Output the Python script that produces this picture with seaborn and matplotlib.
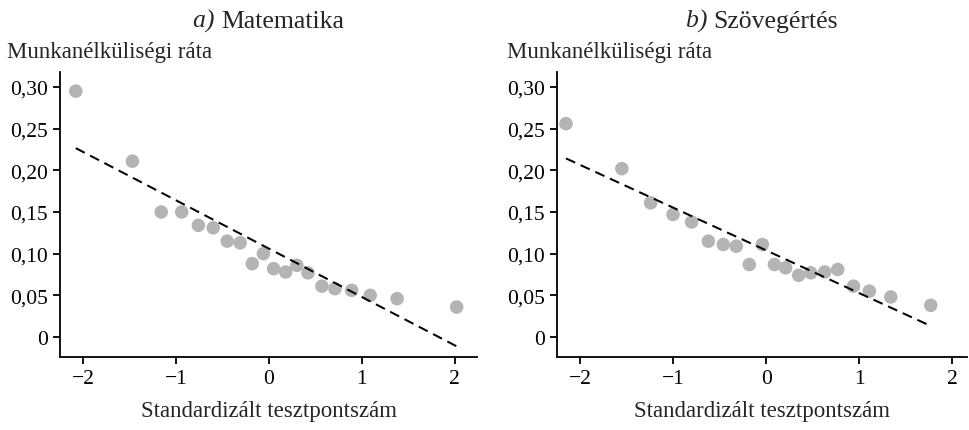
import matplotlib.pyplot as plt
import matplotlib.ticker as mticker
from matplotlib.transforms import offset_copy
import seaborn as sns
import numpy as np
import pandas as pd

# --- Data ---
math_x = [-2.08, -1.47, -1.16, -0.94, -0.76, -0.60, -0.45, -0.31, -0.18, -0.06,
          0.05, 0.18, 0.30, 0.42, 0.57, 0.71, 0.89, 1.09, 1.38, 2.02]
math_y = [0.295, 0.211, 0.150, 0.150, 0.134, 0.131, 0.115, 0.113, 0.088, 0.100,
          0.082, 0.078, 0.086, 0.077, 0.061, 0.058, 0.056, 0.050, 0.046, 0.036]
math_fit = (0.106, -0.058)  # intercept, slope

read_x = [-2.15, -1.55, -1.24, -1.00, -0.80, -0.62, -0.46, -0.32, -0.18, -0.04,
          0.09, 0.21, 0.35, 0.48, 0.63, 0.77, 0.94, 1.11, 1.34, 1.77]
read_y = [0.256, 0.202, 0.161, 0.147, 0.138, 0.115, 0.111, 0.109, 0.087, 0.111,
          0.087, 0.083, 0.074, 0.077, 0.078, 0.081, 0.061, 0.055, 0.048, 0.038]
read_fit = (0.104, -0.0513)

titles = [('a)', 'Matematika'), ('b)', 'Szövegértés')]
ylabel = 'Munkanélküliségi ráta'
xlabel = 'Standardizált tesztpontszám'
yticks = [0, 0.05, 0.10, 0.15, 0.20, 0.25, 0.30]
xticks = [-2, -1, 0, 1, 2]

# --- Style ---
sns.set_theme(style='ticks')
plt.rcParams['font.family'] = ['Liberation Serif', 'DejaVu Serif']
plt.rcParams['font.size'] = 15
plt.rcParams['axes.linewidth'] = 1.3
plt.rcParams['xtick.major.width'] = 1.3
plt.rcParams['ytick.major.width'] = 1.3
plt.rcParams['xtick.major.size'] = 5
plt.rcParams['ytick.major.size'] = 5
plt.rcParams['xtick.labelsize'] = 15.5
plt.rcParams['ytick.labelsize'] = 15.5
plt.rcParams['axes.edgecolor'] = 'black'
plt.rcParams['xtick.color'] = 'black'
plt.rcParams['ytick.color'] = 'black'

fig = plt.figure(figsize=(9.69, 4.31), dpi=100)
ax1 = fig.add_axes([0.0619, 0.1694, 0.4304, 0.6612])
ax2 = fig.add_axes([0.5745, 0.1694, 0.4235, 0.6612])

panels = [(ax1, math_x, math_y, math_fit, (-2.25, 2.24), 0.007),
          (ax2, read_x, read_y, read_fit, (-2.25, 2.16), 0.523)]


def comma_fmt(v, p):
    if abs(v) < 1e-9:
        return '0'
    return f'{v:.2f}'.replace('.', ',')


title_parts = []
for i, (ax, xs, ys, fit, xlim, ylab_x) in enumerate(panels):
    df = pd.DataFrame({'x': xs, 'y': ys})
    sns.scatterplot(data=df, x='x', y='y', ax=ax, color='#b4b4b4', s=95,
                    edgecolor='none', zorder=2)
    lx = np.array([df['x'].min(), df['x'].max()])
    ax.plot(lx, fit[0] + fit[1] * lx, color='black', lw=1.45,
            dashes=(5.0, 3.0), zorder=3)
    ax.set_xlim(*xlim)
    ax.set_ylim(-0.024, 0.318)
    ax.set_xticks(xticks)
    ax.set_yticks(yticks)
    ax.xaxis.set_major_formatter(mticker.FuncFormatter(lambda v, p: f'{v:.0f}'.replace('-', '\u2212')))
    ax.yaxis.set_major_formatter(mticker.FuncFormatter(comma_fmt))
    ax.set_xlabel(xlabel, fontsize=16.5, labelpad=9)
    ax.set_ylabel('')
    sns.despine(ax=ax)
    pre, name = titles[i]
    t1 = ax.text(0.5, 1.18, pre + ' ', transform=ax.transAxes, ha='left',
                 va='center', fontsize=18.5, style='italic')
    t2 = ax.text(0.5, 1.18, name, transform=ax.transAxes, ha='left',
                 va='center', fontsize=18.5)
    title_parts.append((ax, t1, t2))
    fig.text(ylab_x, 0.879, ylabel, ha='left', va='center', fontsize=16.5)

# centre the two-part titles over each panel
fig.canvas.draw()
r = fig.canvas.get_renderer()
for ax, t1, t2 in title_parts:
    w1 = t1.get_window_extent(r).width
    w2 = t2.get_window_extent(r).width
    pts = 72.0 / fig.dpi
    t1.set_transform(offset_copy(ax.transAxes, fig=fig, x=-(w1 + w2) / 2 * pts, y=0, units='points'))
    t2.set_transform(offset_copy(ax.transAxes, fig=fig, x=(w1 - (w1 + w2) / 2) * pts, y=0, units='points'))

fig.savefig('out.png', dpi=100)
